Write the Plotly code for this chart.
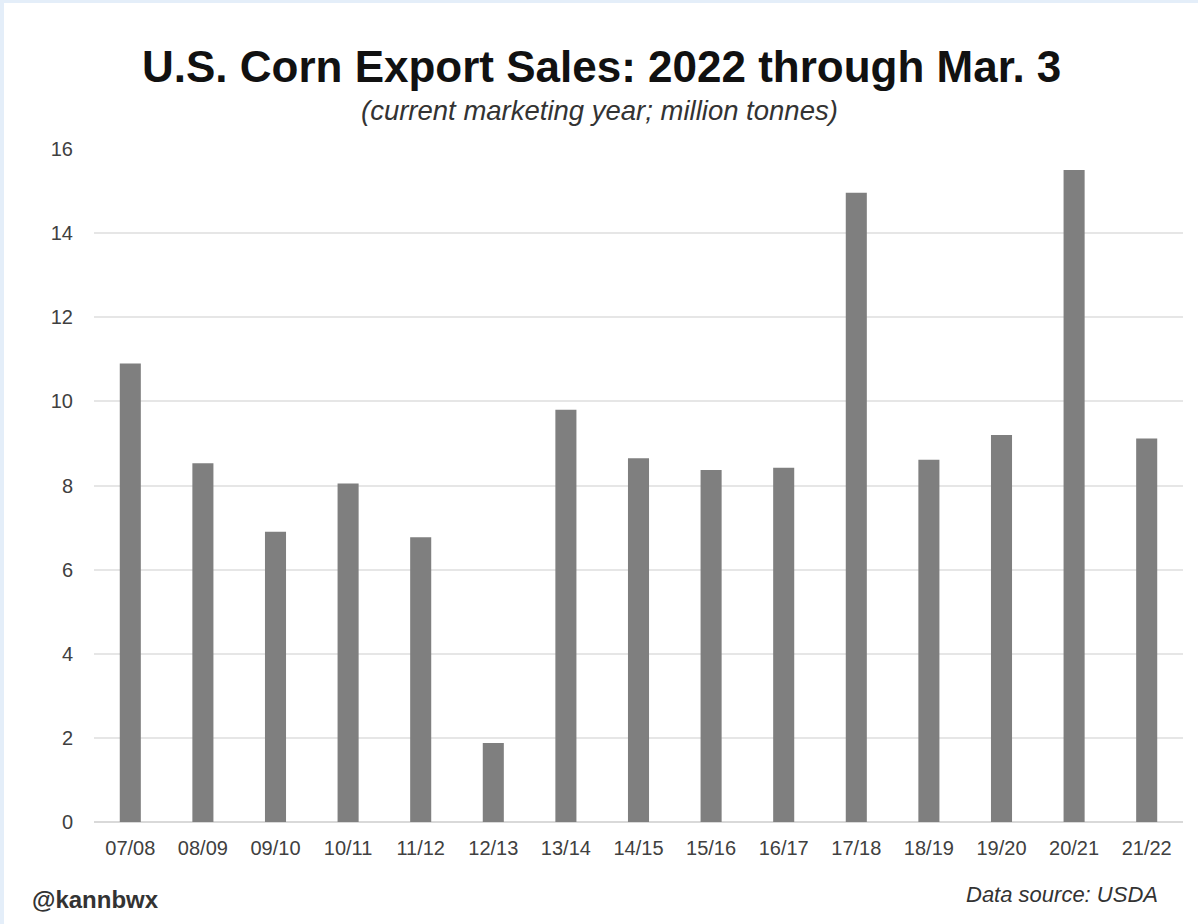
import plotly.graph_objects as go

# Marketing years and accumulated export sales (million tonnes)
years = ["07/08", "08/09", "09/10", "10/11", "11/12", "12/13", "13/14", "14/15",
         "15/16", "16/17", "17/18", "18/19", "19/20", "20/21", "21/22"]
sales = [10.9, 8.53, 6.9, 8.05, 6.77, 1.88, 9.8, 8.65,
         8.37, 8.42, 14.96, 8.61, 9.2, 15.5, 9.12]
y_ticks = [0, 2, 4, 6, 8, 10, 12, 14, 16]

W, H = 1198, 924
L, R, T, B = 94, 15, 149, 102
pw, ph = W - L - R, H - T - B


def px_x(px):
    return (px - L) / pw


def px_y(py):
    return (H - B - py) / ph


fig = go.Figure(go.Bar(
    x=years, y=sales,
    marker=dict(color="#7f7f7f", line=dict(width=0)),
    hoverinfo="x+y",
))

font_family = "Liberation Sans, Arial, Helvetica, sans-serif"

fig.update_layout(
    width=W, height=H,
    margin=dict(l=L, r=R, t=T, b=B),
    paper_bgcolor="white", plot_bgcolor="white",
    bargap=0.71,
    showlegend=False,
    font=dict(family=font_family, color="#404040"),
    xaxis=dict(
        showgrid=False, showline=False, ticks="",
        tickfont=dict(size=20, color="#404040"),
        ticklabelstandoff=12,
    ),
    yaxis=dict(
        range=[0, 16], tickvals=y_ticks,
        showgrid=True, gridcolor="#e6e6e6", gridwidth=1.6,
        zeroline=True, zerolinecolor="#d9d9d9", zerolinewidth=1.6,
        showline=False, ticks="",
        tickfont=dict(size=20, color="#404040"),
        ticklabelstandoff=20,
    ),
)

annotations = [
    dict(text="<b>U.S. Corn Export Sales: 2022 through Mar. 3</b>",
         x=px_x(601), y=px_y(66), xanchor="center", yanchor="middle",
         font=dict(size=44, color="#111111", family=font_family)),
    dict(text="<i>(current marketing year; million tonnes)</i>",
         x=px_x(599), y=px_y(111), xanchor="center", yanchor="middle",
         font=dict(size=27.5, color="#333333", family=font_family)),
    dict(text="<b>@kannbwx</b>",
         x=px_x(30), y=px_y(899), xanchor="left", yanchor="middle",
         font=dict(size=24, color="#333333", family=font_family)),
    dict(text="<i>Data source: USDA</i>",
         x=px_x(1160), y=px_y(894), xanchor="right", yanchor="middle",
         font=dict(size=22, color="#333333", family=font_family)),
]
for a in annotations:
    a.update(xref="paper", yref="paper", showarrow=False)
fig.update_layout(annotations=annotations)

# Thin light-blue frame along the left and top edges
edge = "#e4eef9"
fig.add_shape(type="rect", xref="paper", yref="paper", layer="below",
              x0=px_x(0), x1=px_x(4), y0=px_y(H), y1=px_y(0),
              fillcolor=edge, line=dict(width=0))
fig.add_shape(type="rect", xref="paper", yref="paper", layer="below",
              x0=px_x(0), x1=px_x(W), y0=px_y(3), y1=px_y(0),
              fillcolor=edge, line=dict(width=0))

fig.write_html("out.html")
